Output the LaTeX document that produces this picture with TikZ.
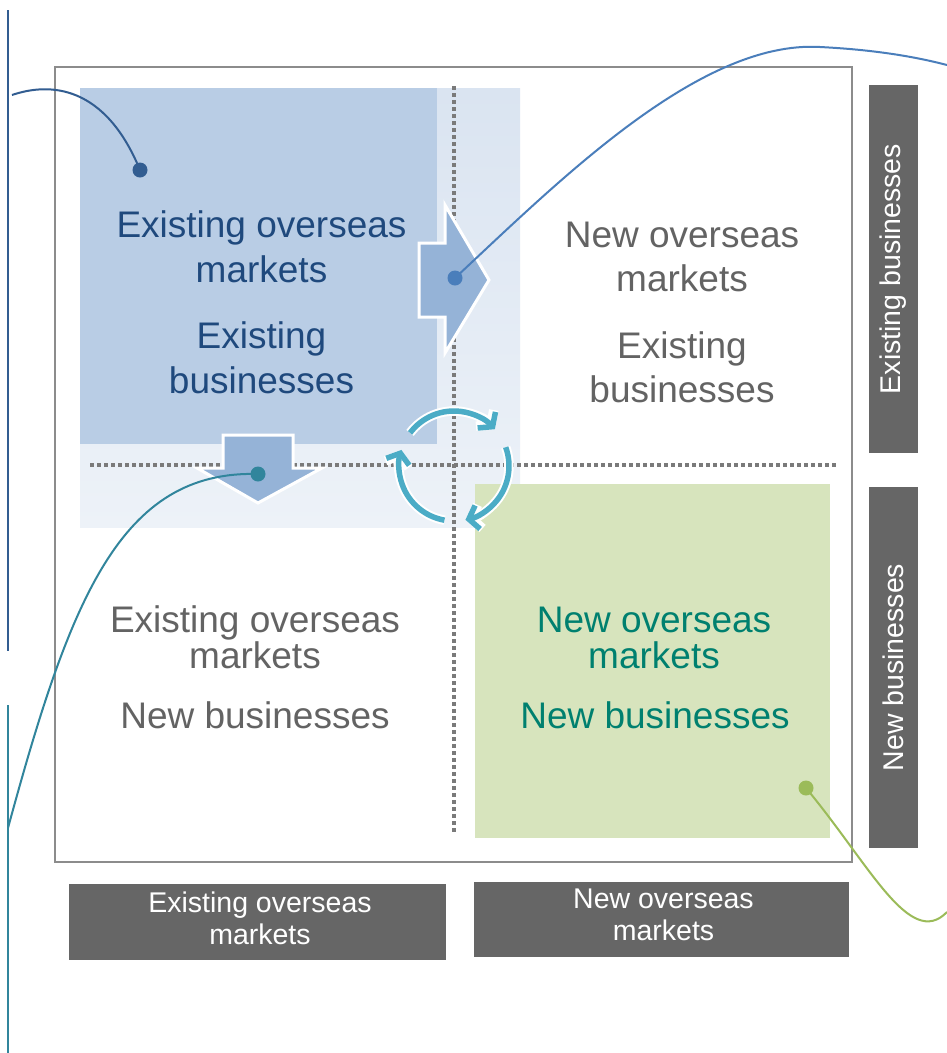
\documentclass[tikz,border=0pt]{standalone}
\usepackage{fontspec}
\setmainfont{Liberation Sans}
\usetikzlibrary{arrows.meta}
\definecolor{dkblue}{HTML}{325D91}
\definecolor{txtblue}{HTML}{1F497D}
\definecolor{midblue}{HTML}{4A7EBB}
\definecolor{tealc}{HTML}{31859C}
\definecolor{greenc}{HTML}{9BBB59}
\definecolor{greenfill}{HTML}{D7E4BD}
\definecolor{bluefill}{HTML}{B9CDE5}
\definecolor{lightA}{HTML}{DAE4F1}
\definecolor{lightB}{HTML}{EDF2F8}
\definecolor{arrowfill}{HTML}{95B3D7}
\definecolor{txtteal}{HTML}{00806F}
\definecolor{txtgray}{HTML}{636363}
\definecolor{boxgray}{HTML}{666666}
\definecolor{framec}{HTML}{8C8C8C}
\definecolor{dotc}{HTML}{7A7A7A}
\definecolor{cyclec}{HTML}{4BACC6}
\begin{document}
\begin{tikzpicture}[x=1pt,y=-1pt,
  bigtext/.style={anchor=base, inner sep=0pt, font=\fontsize{37}{44}\selectfont},
  labelbox/.style={fill=boxgray, inner sep=0pt},
  labeltext/.style={anchor=base, inner sep=0pt, text=white, font=\fontsize{28.5}{33}\selectfont},
  dotline/.style={dotc, line width=3.5pt, dash pattern=on 3.5pt off 3.5pt},
  bigarrow/.style={fill=arrowfill, draw=white, line width=3pt, line join=miter},
  dotnode/.style={circle, inner sep=0pt, minimum size=15pt},
  curve/.style={line width=2pt},
  cyc/.style={cyclec, line width=5.5pt, -{Straight Barb[length=9pt,width=24pt]}},
  cycw/.style={white, line width=9.5pt, -{Straight Barb[length=9pt,width=24pt]}}
]
\useasboundingbox (0,0) rectangle (947,1053);
\fill[white] (0,0) rectangle (947,1053);

% left vertical lines
\coordinate (la1) at (8,10); \coordinate (la2) at (8,651);
\coordinate (lb1) at (8,705); \coordinate (lb2) at (8,1053);
\draw[dkblue, line width=1.8pt] (la1) -- (la2);
\draw[tealc, line width=1.8pt] (lb1) -- (lb2);

% frame
\draw[framec, line width=2pt] (55,67) rectangle (852,862);

% fills
\shade[top color=lightA, bottom color=lightB] (80,88) rectangle (520,527);
\fill[bluefill] (80,88) rectangle (437,444);
\fill[greenfill] (475,484) rectangle (830,838);

% dotted axes
\draw[dotline] (454,86) -- (454,832);
\draw[dotline] (90,465) -- (838,465);

% block arrows
\filldraw[bigarrow] (419,243) -- (445,243) -- (445,205) -- (489,280) -- (445,353) -- (445,317) -- (419,317) -- cycle;
\filldraw[bigarrow] (223,435) -- (293,435) -- (293,468) -- (322,468) -- (258,503) -- (197,468) -- (223,468) -- cycle;

% cycle arrows
\coordinate (cc) at (454,466);
\draw[cycw] (cc) ++(-143:55) arc[start angle=-143, end angle=-42, radius=55];
\draw[cycw] (cc) ++(-20:55) arc[start angle=-20, end angle=78, radius=55];
\draw[cycw] (cc) ++(100:55) arc[start angle=100, end angle=197, radius=55];
\draw[cyc] (cc) ++(-143:55) arc[start angle=-143, end angle=-42, radius=55];
\draw[cyc] (cc) ++(-20:55) arc[start angle=-20, end angle=78, radius=55];
\draw[cyc] (cc) ++(100:55) arc[start angle=100, end angle=197, radius=55];

% dots
\node[dotnode, fill=dkblue] (d1) at (140,170) {};
\node[dotnode, fill=midblue] (d2) at (455,278) {};
\node[dotnode, fill=tealc] (d3) at (258,474) {};
\node[dotnode, fill=greenc] (d4) at (806,788) {};

% curves
\coordinate (c1) at (12,95);
\coordinate (c2) at (947,65);
\coordinate (c3) at (8,828);
\coordinate (c4) at (947,912);
\draw[curve, dkblue] (c1) .. controls (50,82) and (105,85) .. (d1.center);
\draw[curve, midblue] (d2.center) .. controls (560,180) and (700,40) .. (820,47) .. controls (880,50) and (920,58) .. (c2);
\draw[curve, tealc] (d3.center) .. controls (120,470) and (70,600) .. (c3);
\draw[curve, greenc] (d4.center) .. controls (870,865) and (910,950) .. (c4);

% quadrant texts
\node[bigtext, text=txtblue] (t1a) at (261.5,237) {Existing overseas};
\node[bigtext, text=txtblue] (t1b) at (261.5,282) {markets};
\node[bigtext, text=txtblue] (t1c) at (261.5,348) {Existing};
\node[bigtext, text=txtblue] (t1d) at (261.5,393) {businesses};

\node[bigtext, text=txtgray] (t2a) at (682,247) {New overseas};
\node[bigtext, text=txtgray] (t2b) at (682,291) {markets};
\node[bigtext, text=txtgray] (t2c) at (682,358) {Existing};
\node[bigtext, text=txtgray] (t2d) at (682,402) {businesses};

\node[bigtext, text=txtgray] (t3a) at (255,632) {Existing overseas};
\node[bigtext, text=txtgray] (t3b) at (255,668) {markets};
\node[bigtext, text=txtgray] (t3c) at (255,728) {New businesses};

\node[bigtext, text=txtteal] (t4a) at (654,632) {New overseas};
\node[bigtext, text=txtteal] (t4b) at (654,668) {markets};
\node[bigtext, text=txtteal] (t4c) at (655,728) {New businesses};

% axis labels
\node[labelbox, minimum width=377pt, minimum height=76pt] (bx1) at (257.5,922) {};
\node[labeltext] (bx1a) at (260,912) {Existing overseas};
\node[labeltext] (bx1b) at (260,944) {markets};
\node[labelbox, minimum width=375pt, minimum height=75pt] (bx2) at (661.5,919.5) {};
\node[labeltext] (bx2a) at (663.5,908) {New overseas};
\node[labeltext] (bx2b) at (663.5,940) {markets};
\node[labelbox, rotate=90, minimum width=368pt, minimum height=49pt, text=white, font=\fontsize{28.5}{33}\selectfont] (bx3) at (893.5,269) {Existing businesses};
\node[labelbox, rotate=90, minimum width=361pt, minimum height=49pt, text=white, font=\fontsize{28.5}{33}\selectfont] (bx4) at (893.5,667.5) {New businesses};
\end{tikzpicture}
\end{document}
